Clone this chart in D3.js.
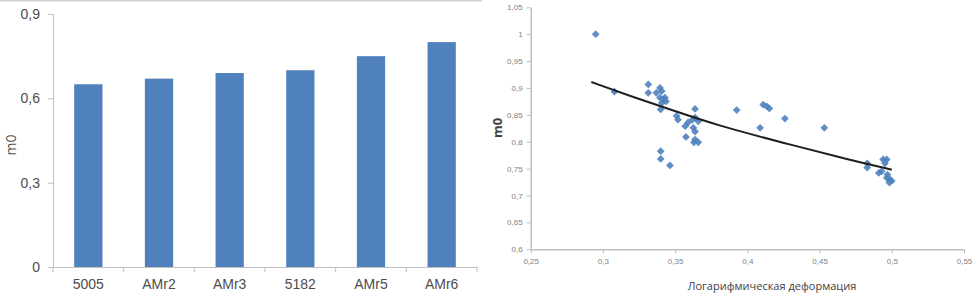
<!DOCTYPE html>
<html>
<head>
<meta charset="utf-8">
<script src="https://cdn.jsdelivr.net/npm/d3@7"></script>
<style>
  body { margin: 0; background: #fff; }
  svg { display: block; font-family: "Open Sans", sans-serif; }
  .axis path, .axis line { stroke: #bfbfbf; }
</style>
</head>
<body>
<svg id="chart" width="973" height="293"></svg>
<script>
// bar chart data
const categories = ["5005", "AMr2", "AMr3", "5182", "AMr5", "AMr6"];
const barValues = [0.65, 0.67, 0.69, 0.70, 0.75, 0.80];
const barTicks = [0, 0.3, 0.6, 0.9];

// scatter data (logarithmic strain vs m0)
const strainX = [0.295, 0.308, 0.3314, 0.3314, 0.337, 0.3395, 0.3407, 0.3395, 0.3418, 0.3437, 0.3407, 0.343,
  0.340, 0.340, 0.340, 0.3464, 0.351, 0.352, 0.3638, 0.359, 0.362, 0.366, 0.3638, 0.357, 0.3626, 0.3638,
  0.3575, 0.3638, 0.366, 0.363, 0.3926, 0.411, 0.4134, 0.4152, 0.4088, 0.426, 0.4533,
  0.483, 0.483, 0.494, 0.4965, 0.4953, 0.493, 0.491, 0.497, 0.4965, 0.4988, 0.500, 0.4983];
const m0Y = [1.0, 0.893, 0.9065, 0.891, 0.891, 0.900, 0.894, 0.882, 0.879, 0.875, 0.872, 0.882,
  0.860, 0.7825, 0.768, 0.756, 0.848, 0.841, 0.861, 0.836, 0.841, 0.838, 0.845, 0.829, 0.826, 0.819,
  0.809, 0.804, 0.799, 0.799, 0.859, 0.869, 0.866, 0.862, 0.826, 0.843, 0.826,
  0.760, 0.752, 0.767, 0.767, 0.760, 0.745, 0.742, 0.739, 0.733, 0.730, 0.727, 0.724];

// trend line
const trendX = [0.292, 0.319, 0.3465, 0.381, 0.425, 0.471, 0.5];
const trendY = [0.911, 0.885, 0.860, 0.829, 0.798, 0.766, 0.748];

const xTicks = [0.25, 0.3, 0.35, 0.4, 0.45, 0.5, 0.55];
const yTicks = [0.6, 0.65, 0.7, 0.75, 0.8, 0.85, 0.9, 0.95, 1, 1.05];

const svg = d3.select("#chart");
const comma = v => String(v).replace(".", ",");

// top border of the left panel
svg.append("line")
  .attr("x1", 0).attr("x2", 482).attr("y1", 0.5).attr("y2", 0.5)
  .attr("stroke", "#d0d0d0").attr("stroke-width", 2);

// ---------- bar chart ----------
const x = d3.scaleBand()
  .domain(categories)
  .range([53, 477])
  .paddingInner(0.6)
  .paddingOuter(0.3);

const y = d3.scaleLinear()
  .domain([0, 0.9])
  .range([267, 14]);

const gy = svg.append("g")
  .attr("class", "axis")
  .attr("transform", "translate(53,0)")
  .call(d3.axisLeft(y).tickValues(barTicks).tickSize(5).tickSizeOuter(0).tickPadding(8).tickFormat(comma));
gy.selectAll("text").attr("font-size", 14).attr("fill", "#4d4d4d");

svg.selectAll("rect.bar")
  .data(barValues)
  .enter()
  .append("rect")
  .attr("class", "bar")
  .attr("x", (d, i) => x(categories[i]))
  .attr("y", d => y(d))
  .attr("width", x.bandwidth())
  .attr("height", d => y(0) - y(d))
  .attr("fill", "#4f81bd");

const gx = svg.append("g")
  .attr("class", "axis")
  .attr("transform", `translate(0,${y(0)})`)
  .call(d3.axisBottom(x).tickSize(0).tickSizeOuter(0).tickPadding(12));
gx.selectAll("text").attr("font-size", 14).attr("fill", "#4d4d4d");

// category boundary ticks
gx.selectAll("line.cat")
  .data(d3.range(categories.length + 1))
  .enter()
  .append("line")
  .attr("class", "cat")
  .attr("x1", i => 53 + i * x.step())
  .attr("x2", i => 53 + i * x.step())
  .attr("y1", 0).attr("y2", 5);

svg.append("text")
  .attr("transform", "translate(16,145) rotate(-90)")
  .attr("text-anchor", "middle")
  .attr("font-size", 14)
  .attr("fill", "#4d4d4d")
  .text("m0");

// ---------- scatter ----------
const xs = d3.scaleLinear().domain([0.25, 0.55]).range([530.7, 964]);
const ys = d3.scaleLinear().domain([0.6, 1.05]).range([249.3, 7.3]);

const sx = svg.append("g")
  .attr("class", "axis")
  .attr("transform", `translate(0,${ys(0.6)})`)
  .call(d3.axisBottom(xs).tickValues(xTicks).tickSize(4).tickSizeOuter(0).tickPadding(5).tickFormat(comma));
sx.select("path").attr("stroke-width", 1.5);
sx.selectAll("text").attr("font-size", 8).attr("fill", "#7f7f7f");

const sy = svg.append("g")
  .attr("class", "axis")
  .attr("transform", `translate(${xs(0.25)},0)`)
  .call(d3.axisLeft(ys).tickValues(yTicks).tickSize(4).tickSizeOuter(0).tickPadding(4).tickFormat(comma));
sy.select("path").attr("stroke-width", 1.5);
sy.selectAll("text").attr("font-size", 8).attr("fill", "#7f7f7f");

const diamond = d3.symbol().type(d3.symbolSquare).size(30);
svg.append("g")
  .selectAll("path")
  .data(strainX)
  .enter()
  .append("path")
  .attr("d", diamond)
  .attr("transform", (d, i) => `translate(${xs(d)},${ys(m0Y[i])}) rotate(45)`)
  .attr("fill", "#4f81bd")
  .attr("opacity", 0.9);

const line = d3.line()
  .x(d => xs(d))
  .y((d, i) => ys(trendY[i]))
  .curve(d3.curveBasis);

svg.append("path")
  .attr("d", line(trendX))
  .attr("fill", "none")
  .attr("stroke", "#1f1f1f")
  .attr("stroke-width", 2);

svg.append("text")
  .attr("transform", "translate(502,128) rotate(-90)")
  .attr("text-anchor", "middle")
  .attr("font-size", 13)
  .attr("font-weight", "bold")
  .attr("fill", "#404040")
  .text("m0");

svg.append("text")
  .attr("x", 772)
  .attr("y", 290)
  .attr("text-anchor", "middle")
  .attr("font-size", 11)
  .attr("fill", "#404040")
  .text("Логарифмическая деформация");
</script>
</body>
</html>
